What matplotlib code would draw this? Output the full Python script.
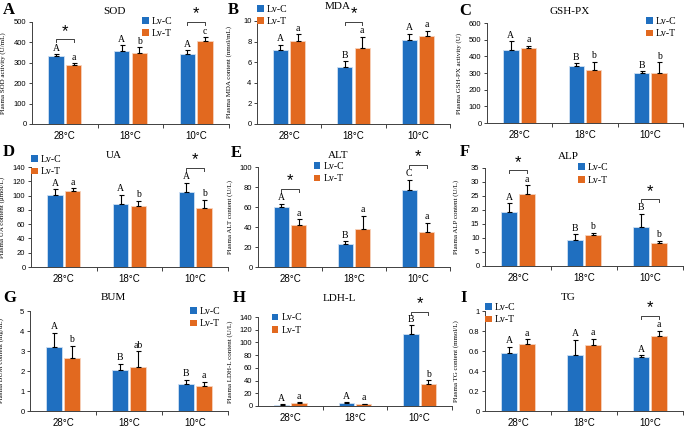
import numpy as np
import matplotlib
matplotlib.use('Agg')
import matplotlib.pyplot as plt
from matplotlib.patches import Patch

temps = ['28°C', '18°C', '10°C']

#values: control (Lv-C) and treatment (Lv-T), with upper error
sod_c = [333, 357, 343]
sod_c_err = [8, 28, 18]
sod_t = [290, 348, 405]
sod_t_err = [8, 28, 20]
sod_c_lab = ['A', 'A', 'A']
sod_t_lab = ['a', 'b', 'c']
sod_star = [0, 2]

mda_c = [7.15, 5.5, 8.15]
mda_c_err = [0.55, 0.6, 0.6]
mda_t = [8.1, 7.4, 8.55]
mda_t_err = [0.6, 1.05, 0.5]
mda_c_lab = ['A', 'B', 'A']
mda_t_lab = ['a', 'a', 'a']
mda_star = [1]

gsh_c = [435, 345, 303]
gsh_c_err = [55, 15, 7]
gsh_t = [450, 316, 300]
gsh_t_err = [12, 50, 65]
gsh_c_lab = ['A', 'B', 'B']
gsh_t_lab = ['a', 'b', 'b']
gsh_star = []

ua_c = [101, 88, 105]
ua_c_err = [8, 13, 13]
ua_t = [106, 86, 83]
ua_t_err = [4, 7, 11]
ua_c_lab = ['A', 'A', 'A']
ua_t_lab = ['a', 'b', 'b']
ua_star = [2]

alt_c = [60, 23.5, 77]
alt_c_err = [3, 2.5, 10]
alt_t = [42, 38.5, 35]
alt_t_err = [6, 12.5, 9.5]
alt_c_lab = ['A', 'B', 'C']
alt_t_lab = ['a', 'a', 'a']
alt_star = [0, 2]

alp_c = [19.3, 9.4, 13.9]
alp_c_err = [3.2, 2.0, 4.7]
alp_t = [25.7, 10.9, 8.1]
alp_t_err = [3.2, 1.0, 1.0]
alp_c_lab = ['A', 'B', 'B']
alp_t_lab = ['a', 'b', 'b']
alp_star = [0, 2]

bum_c = [3.2, 2.07, 1.33]
bum_c_err = [0.7, 0.3, 0.22]
bum_t = [2.67, 2.2, 1.25]
bum_t_err = [0.6, 0.8, 0.22]
bum_c_lab = ['A', 'B', 'B']
bum_t_lab = ['b', 'ab', 'a']
bum_star = []

ldh_c = [2, 5, 113]
ldh_c_err = [1, 1, 14]
ldh_t = [5, 2.5, 35]
ldh_t_err = [1.5, 1, 6]
ldh_c_lab = ['A', 'A', 'B']
ldh_t_lab = ['a', 'a', 'b']
ldh_star = [2]

tg_c = [0.585, 0.565, 0.54]
tg_c_err = [0.06, 0.15, 0.02]
tg_t = [0.67, 0.66, 0.75]
tg_t_err = [0.05, 0.065, 0.055]
tg_c_lab = ['A', 'A', 'A']
tg_t_lab = ['a', 'a', 'a']
tg_star = [2]

blue = '#1f6fc0'
orange = '#e2691f'
serif = 'Liberation Serif'
sans = 'Liberation Sans'

W, H = 685, 428

def rect(l, r, top, bot):
    return [l / W, 1 - bot / H, (r - l) / W, (bot - top) / H]

# panel: letter, title, ylabel, data, ymax, ystep, axes rect (pixels), legend anchor, title y, letter pos
panels = [
    ('A', 'SOD', 'Plasma SOD activity (U/mL)', sod_c, sod_c_err, sod_t, sod_t_err, sod_c_lab, sod_t_lab, sod_star,
     500, 100, rect(32, 229, 22, 124), (0.56, 1.05), 1.10, (3, 2)),
    ('B', 'MDA', 'Plasma MDA content (nmol/mL)', mda_c, mda_c_err, mda_t, mda_t_err, mda_c_lab, mda_t_lab, mda_star,
     10, 2, rect(257, 450, 21, 124), (0.0, 1.16), 1.14, (228, 2)),
    ('C', 'GSH-PX', 'Plasma GSH-PX activity (U)', gsh_c, gsh_c_err, gsh_t, gsh_t_err, gsh_c_lab, gsh_t_lab, gsh_star,
     600, 100, rect(487, 683, 23, 123), (0.81, 1.06), 1.11, (459, 3)),
    ('D', 'UA', 'Plasma UA content (μmol/L)', ua_c, ua_c_err, ua_t, ua_t_err, ua_c_lab, ua_t_lab, ua_star,
     140, 20, rect(31, 228, 167, 267), (0.0, 1.12), 1.12, (3, 144)),
    ('E', 'ALT', 'Plasma ALT content (U/L)', alt_c, alt_c_err, alt_t, alt_t_err, alt_c_lab, alt_t_lab, alt_star,
     100, 20, rect(258, 450, 167, 267), (0.29, 1.05), 1.12, (231, 145)),
    ('F', 'ALP', 'Plasma ALP content (U/L)', alp_c, alp_c_err, alp_t, alp_t_err, alp_c_lab, alp_t_lab, alp_star,
     35, 5, rect(485, 683, 168, 266), (0.47, 1.05), 1.12, (460, 144)),
    ('G', 'BUM', 'Plasma BUM content (mg/dL)', bum_c, bum_c_err, bum_t, bum_t_err, bum_c_lab, bum_t_lab, bum_star,
     5, 1, rect(30, 228, 311, 411), (0.81, 1.04), 1.13, (3, 290)),
    ('H', 'LDH-L', 'Plasma LDH-L content (U/L)', ldh_c, ldh_c_err, ldh_t, ldh_t_err, ldh_c_lab, ldh_t_lab, ldh_star,
     140, 20, rect(258, 452, 317, 406), (0.07, 1.04), 1.21, (233, 290)),
    ('I', 'TG', 'Plasma TG content (mmol/L)', tg_c, tg_c_err, tg_t, tg_t_err, tg_c_lab, tg_t_lab, tg_star,
     1, 0.2, rect(485, 683, 311, 411), (0.0, 1.08), 1.13, (460, 290)),
]

fig = plt.figure(figsize=(6.85, 4.28), dpi=100)

x = np.arange(3)
off = 0.135
bw = 0.235

for (letter, title, ylab, vc, ec, vt, et, lc, lt, stars, ymax, ystep, pos, leg_at, ty, lpos) in panels:
    ax = fig.add_axes(pos)
    ax.bar(x - off, vc, bw, color=blue, edgecolor='#cfe0f3', linewidth=0.6, zorder=2)
    ax.bar(x + off, vt, bw, color=orange, edgecolor='#f7d3bd', linewidth=0.6, zorder=2)
    ax.errorbar(x - off, vc, yerr=[np.zeros(3), ec], fmt='none', ecolor='black',
                elinewidth=0.8, capsize=1.8, capthick=0.8, zorder=3)
    ax.errorbar(x + off, vt, yerr=[np.zeros(3), et], fmt='none', ecolor='black',
                elinewidth=0.8, capsize=1.8, capthick=0.8, zorder=3)

    pad = ymax * 0.015
    for i in range(3):
        ax.text(x[i] - off, vc[i] + ec[i] + pad, lc[i], ha='center', va='bottom',
                fontsize=7, family=serif)
        ax.text(x[i] + off, vt[i] + et[i] + pad, lt[i], ha='center', va='bottom',
                fontsize=7, family=serif)

    #significance brackets
    for i in stars:
        top = max(vc[i] + ec[i], vt[i] + et[i])
        yb = top + ymax * 0.15
        h = ymax * 0.03
        ax.plot([x[i] - off, x[i] - off, x[i] + off, x[i] + off], [yb - h, yb, yb, yb - h],
                color='#404040', lw=0.7, clip_on=False)
        ax.text(x[i], yb + ymax * 0.005, '*', ha='center', va='bottom', fontsize=12,
                family=sans, clip_on=False)

    ax.set_xlim(-0.5, 2.5)
    ax.set_ylim(0, ymax)
    ax.set_yticks(np.arange(0, ymax + ystep / 2, ystep))
    ax.set_yticklabels([('%g' % v) for v in np.arange(0, ymax + ystep / 2, ystep)])
    ax.set_xticks(x)
    ax.set_xticklabels(temps, fontsize=7, family=sans)
    ax.set_xticks([0.5, 1.5, 2.5], minor=True)
    ax.tick_params(axis='x', which='major', length=0, pad=5)
    ax.tick_params(axis='x', which='minor', length=3, width=0.7, color='#404040')
    ax.tick_params(axis='y', length=2.5, width=0.7, labelsize=5.5, pad=1.5, color='#404040')
    for lab in ax.get_yticklabels():
        lab.set_family(sans)
    for s in ['top', 'right']:
        ax.spines[s].set_visible(False)
    for s in ['left', 'bottom']:
        ax.spines[s].set_color('#404040')
        ax.spines[s].set_linewidth(0.7)

    ax.set_ylabel(ylab, fontsize=5, family=serif)
    ax.yaxis.set_label_coords(-0.13, 0.5)
    ax.text(0.42, ty, title, transform=ax.transAxes, ha='center', va='center',
            fontsize=8, family=serif)

    handles = [Patch(facecolor=blue, edgecolor='none', label='Lv-C'),
               Patch(facecolor=orange, edgecolor='none', label='Lv-T')]
    ax.legend(handles=handles, loc='upper left', bbox_to_anchor=leg_at, frameon=False,
              prop={'family': serif, 'size': 7}, handlelength=0.7, handleheight=0.7,
              handletextpad=0.3, labelspacing=0.35, borderaxespad=0, borderpad=0)

    fig.text(lpos[0] / W, 1 - lpos[1] / H, letter, fontsize=12, fontweight='bold',
             family=serif, va='top', ha='left')

fig.savefig('out.png', dpi=100)
